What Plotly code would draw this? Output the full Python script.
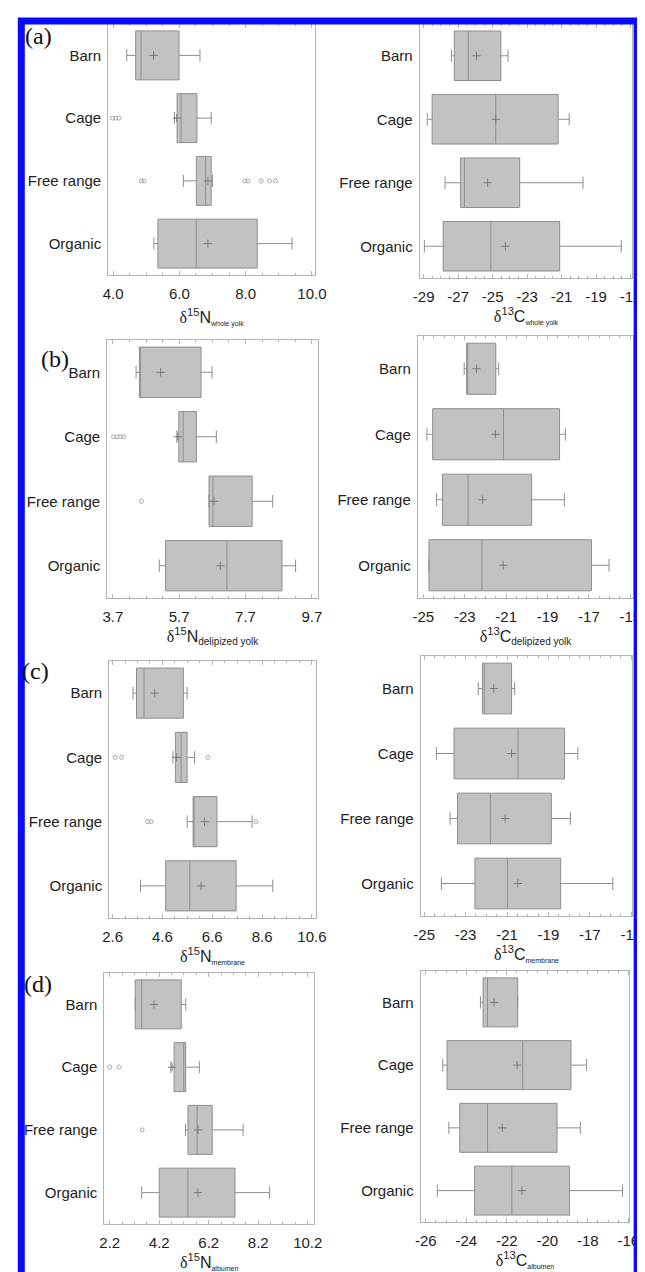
import plotly.graph_objects as go

categories = ["Barn", "Cage", "Free range", "Organic"]

# (a) whole yolk
a_N = dict(low=[4.41, 5.85, 6.12, 5.23], q1=[4.68, 5.93, 6.51, 5.35], med=[4.84, 6.05, 6.79, 6.51],
           q3=[5.99, 6.53, 6.96, 8.35], high=[6.62, 6.96, 7.00, 9.40], mean=[5.22, 5.92, 6.86, 6.86])
a_N_out_cat = ["Cage", "Cage", "Cage", "Free range", "Free range", "Free range", "Free range", "Free range", "Free range", "Free range"]
a_N_out_val = [3.98, 4.08, 4.18, 4.85, 4.93, 7.98, 8.07, 8.47, 8.72, 8.90]
a_C = dict(low=[-27.39, -28.79, -27.76, -28.96], q1=[-27.22, -28.51, -26.86, -27.87], med=[-26.41, -24.82, -26.64, -25.10],
           q3=[-24.52, -21.20, -23.43, -21.11], high=[-24.11, -20.56, -19.76, -17.54], mean=[-25.94, -24.82, -25.29, -24.26])

# (b) delipized yolk
b_N = dict(low=[4.40, 5.63, 6.60, 5.10], q1=[4.50, 5.69, 6.60, 5.29], med=[4.52, 5.82, 6.72, 7.14],
           q3=[6.36, 6.22, 7.90, 8.80], high=[6.69, 6.82, 8.52, 9.21], mean=[5.14, 5.66, 6.75, 6.94])
b_N_out_cat = ["Cage", "Cage", "Cage", "Cage", "Free range"]
b_N_out_val = [3.72, 3.82, 3.92, 4.02, 4.56]
b_C = dict(low=[-23.03, -24.83, -24.36, -24.73], q1=[-22.91, -24.55, -24.08, -24.73], med=[-22.88, -21.13, -22.84, -22.17],
           q3=[-21.50, -18.42, -19.77, -16.88], high=[-21.36, -18.14, -18.19, -16.03], mean=[-22.44, -21.52, -22.14, -21.14])

# (c) membrane
c_N = dict(low=[3.42, 5.02, 5.59, 3.72], q1=[3.56, 5.12, 5.83, 4.73], med=[3.86, 5.35, 5.85, 5.70],
           q3=[5.44, 5.59, 6.79, 7.56], high=[5.59, 5.89, 8.20, 9.03], mean=[4.29, 5.17, 6.29, 6.15])
c_N_out_cat = ["Cage", "Cage", "Cage", "Free range", "Free range", "Free range"]
c_N_out_val = [2.70, 2.96, 6.42, 4.00, 4.15, 8.35]
c_C = dict(low=[-22.39, -24.41, -23.75, -24.17], q1=[-22.19, -23.56, -23.39, -22.55], med=[-22.10, -20.47, -21.80, -20.98],
           q3=[-20.78, -18.22, -18.86, -18.41], high=[-20.63, -17.58, -17.94, -15.89], mean=[-21.64, -20.78, -21.09, -20.48])

# (d) albumen
d_N = dict(low=[3.23, 4.67, 5.26, 3.49], q1=[3.23, 4.80, 5.36, 4.20], med=[3.49, 5.19, 5.73, 5.36],
           q3=[5.09, 5.27, 6.34, 7.26], high=[5.27, 5.82, 7.59, 8.66], mean=[3.99, 4.72, 5.77, 5.76])
d_N_out_cat = ["Cage", "Cage", "Free range"]
d_N_out_val = [2.20, 2.58, 3.51]
d_C = dict(low=[-23.30, -25.16, -24.86, -25.43], q1=[-23.17, -24.95, -24.32, -23.59], med=[-22.95, -21.21, -22.95, -21.75],
           q3=[-21.46, -18.83, -19.52, -18.90], high=[-21.46, -18.06, -18.37, -16.29], mean=[-22.63, -21.49, -22.22, -21.25])

# tick labels
a_N_ticks = [4.0, 6.0, 8.0, 10.0]
a_C_ticks = [-29, -27, -25, -23, -21, -19, -17]
b_N_ticks = [3.7, 5.7, 7.7, 9.7]
b_C_ticks = [-25, -23, -21, -19, -17, -15]
c_N_ticks = [2.6, 4.6, 6.6, 8.6, 10.6]
c_C_ticks = [-25, -23, -21, -19, -17, -15]
d_N_ticks = [2.2, 4.2, 6.2, 8.2, 10.2]
d_C_ticks = [-26, -24, -22, -20, -18, -16]

panel_labels = ["(a)", "(b)", "(c)", "(d)"]

W, H = 645, 1272
SERIF = "Liberation Serif"
SANS = "Liberation Sans"
TXT = "#222222"


def title_html(iso, el, sub, subsize):
    return (f'<span style="font-family:{SERIF}">δ</span><sup>{iso}</sup>{el}'
            f'<sub><span style="font-size:{subsize}px;color:{TXT}">{sub}</span></sub>')


panels = [
    # stats, outliers cat, outliers val, ticks, fmt, range, (left, right, top, bottom) px, title, standoff
    (a_N, a_N_out_cat, a_N_out_val, a_N_ticks, "{:.1f}", [3.85, 10.09], (96, 309, 16, 267), title_html(15, "N", "whole yolk", 7), 10),
    (a_C, [], [], a_C_ticks, "{:d}", [-29.23, -16.9], (417, 636, 16, 270), title_html(13, "C", "whole yolk", 7), 2),
    (b_N, b_N_out_cat, b_N_out_val, b_N_ticks, "{:.1f}", [3.53, 9.88], (95, 312, 332, 590), title_html(15, "N", "delipized yolk", 10), 5),
    (b_C, [], [], b_C_ticks, "{:d}", [-25.27, -14.86], (415, 637, 328, 590), title_html(13, "C", "delipized yolk", 10), 5),
    (c_N, c_N_out_cat, c_N_out_val, c_N_ticks, "{:.1f}", [2.46, 10.76], (97, 310, 653, 910), title_html(15, "N", "membrane", 7), 2),
    (c_C, [], [], c_C_ticks, "{:d}", [-25.17, -14.95], (418, 636, 648, 908), title_html(13, "C", "membrane", 7), 2),
    (d_N, d_N_out_cat, d_N_out_val, d_N_ticks, "{:.1f}", [1.98, 10.45], (92, 308, 965, 1216), title_html(15, "N", "albumen", 7), 5),
    (d_C, [], [], d_C_ticks, "{:d}", [-26.25, -15.95], (418, 633, 963, 1214), title_html(13, "C", "albumen", 7), 0),
]

BOX_FILL = "#c2c2c2"
BOX_LINE = "#8e8e8e"
FRAME = "#b4b4b4"
OUTLIER = "#a8a8a8"
MEAN = "#7c7c7c"

fig = go.Figure()
layout = dict(
    width=W, height=H, margin=dict(l=0, r=0, t=0, b=0),
    paper_bgcolor="white", plot_bgcolor="white", showlegend=False,
    font=dict(family=SANS, size=15, color=TXT),
)

for i, (st, oc, ov, ticks, fmt, rng, box, ttl, stdoff) in enumerate(panels):
    n = i + 1
    xa = "x" if n == 1 else f"x{n}"
    ya = "y" if n == 1 else f"y{n}"
    fig.add_trace(go.Box(
        y=categories, q1=st["q1"], median=st["med"], q3=st["q3"],
        lowerfence=st["low"], upperfence=st["high"],
        orientation="h", xaxis=xa, yaxis=ya, width=0.78, whiskerwidth=0.25,
        fillcolor=BOX_FILL, line=dict(color=BOX_LINE, width=1), boxpoints=False,
        hoverinfo="skip",
    ))
    fig.add_trace(go.Scatter(
        x=st["mean"], y=categories, mode="markers", xaxis=xa, yaxis=ya,
        marker=dict(symbol="cross-thin", size=6, color=MEAN, line=dict(color=MEAN, width=1)),
    ))
    if ov:
        fig.add_trace(go.Scatter(
            x=ov, y=oc, mode="markers", xaxis=xa, yaxis=ya,
            marker=dict(symbol="circle-open", size=4, color=OUTLIER, line=dict(color=OUTLIER, width=1)),
        ))
    l, r, t, b = box
    step = ticks[1] - ticks[0]
    layout["xaxis" if n == 1 else f"xaxis{n}"] = dict(
        domain=[l / W, r / W], anchor=ya, range=rng,
        tickmode="array", tickvals=ticks, ticktext=[fmt.format(v) for v in ticks],
        ticks="inside", ticklen=4, tickcolor=FRAME, ticklabelstandoff=5,
        minor=dict(tickmode="linear", tick0=ticks[0], dtick=step / 4, ticks="inside", ticklen=2, tickcolor=FRAME),
        showline=True, linecolor=FRAME, linewidth=1, mirror="ticks",
        showgrid=False, zeroline=False, tickfont=dict(size=15, color=TXT),
        title=dict(text=ttl, font=dict(size=16, color=TXT), standoff=stdoff),
    )
    layout["yaxis" if n == 1 else f"yaxis{n}"] = dict(
        domain=[1 - b / H, 1 - t / H], anchor=xa, type="category",
        categoryorder="array", categoryarray=categories[::-1], range=[-0.5, 3.5],
        showline=True, linecolor=FRAME, linewidth=1, mirror=True, ticks="",
        showgrid=False, zeroline=False, ticklabelstandoff=3,
        tickfont=dict(size=15, color=TXT),
    )

label_pos = [(8, 28), (25, 351), (5, 663), (7, 976)]
annotations = []
for txt, (px, py) in zip(panel_labels, label_pos):
    annotations.append(dict(
        text=txt, xref="paper", yref="paper", x=px / W, y=1 - py / H,
        xanchor="left", yanchor="middle", showarrow=False,
        font=dict(family=SERIF, size=24, color="#111111"),
    ))
layout["annotations"] = annotations
layout["shapes"] = [dict(
    type="rect", xref="paper", yref="paper", layer="above",
    x0=6.5 / W, x1=641 / W, y0=-0.02, y1=1 - 13 / H,
    line=dict(color="#0a0aff", width=7),
)]

fig.update_layout(**layout)
fig.write_html("out.html")
